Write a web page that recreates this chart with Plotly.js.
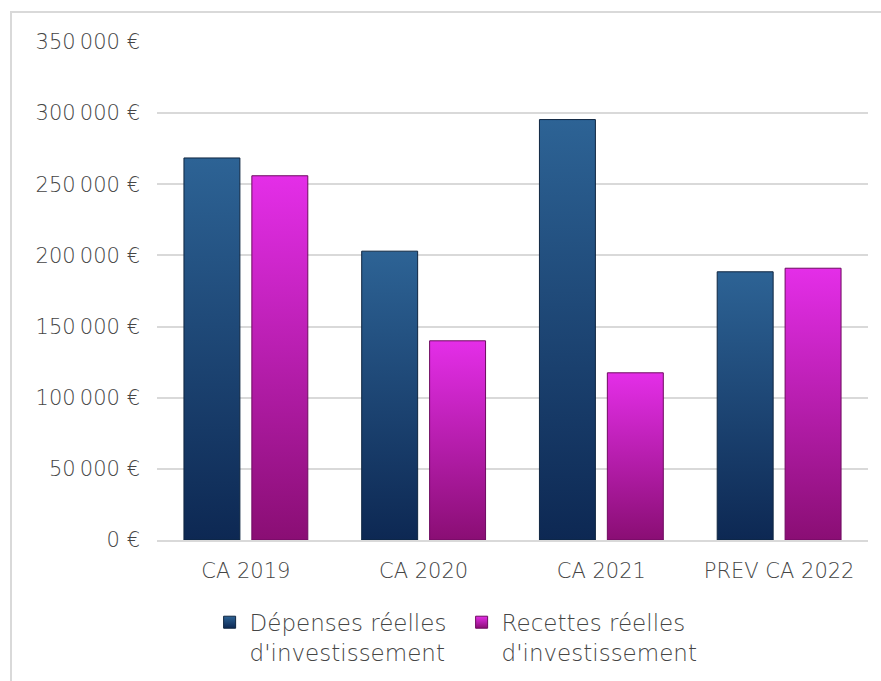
<!DOCTYPE html>
<html>
<head>
<meta charset="utf-8">
<script src="https://cdn.plot.ly/plotly-3.0.1.min.js"></script>
<style>
html,body{margin:0;padding:0;background:#fff;}
#chart{width:881px;height:681px;position:relative;}
#frame{position:absolute;left:10px;top:11px;width:871px;height:670px;border-left:2px solid #d9d9d9;border-top:2px solid #d9d9d9;box-sizing:border-box;pointer-events:none;}
</style>
</head>
<body>
<div id="chart"><div id="frame"></div></div>
<script>
const categories = ["CA 2019", "CA 2020", "CA 2021", "PREV CA 2022"];
const depenses = [268500, 203000, 295500, 188500];
const recettes = [256000, 140000, 117500, 191000];
const seriesNames = ["Dépenses réelles<br>d'investissement", "Recettes réelles<br>d'investissement"];
const yTicks = [0, 50000, 100000, 150000, 200000, 250000, 300000, 350000];
const yTickText = yTicks.map(v => String(v).replace(/\B(?=(\d{3})+(?!\d))/g, "\u2009") + " €");

const font = {family: "'DejaVu Sans', sans-serif", size: 21, color: "#454545", weight: 200};
const legendFont = {family: "'DejaVu Sans', sans-serif", size: 23, color: "#454545", weight: 200};

const traces = [
  {type: "bar", x: categories, y: depenses, name: seriesNames[0],
   marker: {color: "#1d4675", line: {color: "#0f2640", width: 1}}, hoverinfo: "none"},
  {type: "bar", x: categories, y: recettes, name: seriesNames[1],
   marker: {color: "#b81fa8", line: {color: "#6e0a60", width: 1}}, hoverinfo: "none"}
];

const layout = {
  width: 881, height: 681,
  margin: {l: 157, r: 13, t: 42, b: 141, autoexpand: false},
  paper_bgcolor: "rgba(0,0,0,0)", plot_bgcolor: "rgba(0,0,0,0)",
  font: font,
  barmode: "group",
  bargap: 0.236,
  bargroupgap: 0.176,
  showlegend: true,
  legend: {orientation: "h", x: 0.074, xanchor: "left", xref: "paper", y: -0.122, yanchor: "top",
           font: legendFont, valign: "top", itemwidth: 30, tracegroupgap: 0, entrywidth: 207},
  xaxis: {showgrid: false, showline: true, linecolor: "#d9d9d9", linewidth: 2, ticks: "",
          tickfont: font, ticklabelstandoff: 11, fixedrange: true, automargin: false},
  yaxis: {range: [0, 350000], tickmode: "array", tickvals: yTicks, ticktext: yTickText,
          showgrid: true, gridcolor: "#d9d9d9", gridwidth: 2, zeroline: false, showline: false,
          ticks: "", ticklabelstandoff: 16, tickfont: font, fixedrange: true, automargin: false}
};

function addGradients(gd) {
  const svg = gd.querySelector("svg.main-svg");
  const ns = "http://www.w3.org/2000/svg";
  let defs = svg.querySelector("defs");
  if (!defs) { defs = document.createElementNS(ns, "defs"); svg.insertBefore(defs, svg.firstChild); }
  const grads = [
    {id: "gBlue", top: "#2d6395", bottom: "#0d2853"},
    {id: "gMag", top: "#e42ee8", bottom: "#8a0e74"}
  ];
  grads.forEach(g => {
    const lg = document.createElementNS(ns, "linearGradient");
    lg.setAttribute("id", g.id);
    lg.setAttribute("x1", "0"); lg.setAttribute("y1", "0");
    lg.setAttribute("x2", "0"); lg.setAttribute("y2", "1");
    const s1 = document.createElementNS(ns, "stop");
    s1.setAttribute("offset", "0"); s1.setAttribute("stop-color", g.top);
    const s2 = document.createElementNS(ns, "stop");
    s2.setAttribute("offset", "1"); s2.setAttribute("stop-color", g.bottom);
    lg.appendChild(s1); lg.appendChild(s2); defs.appendChild(lg);
  });
  gd.querySelectorAll(".barlayer .trace").forEach((t, i) => {
    t.querySelectorAll(".point path").forEach(p => { p.style.fill = "url(#" + grads[i].id + ")"; });
  });
  gd.querySelectorAll(".legend .traces").forEach((t, i) => {
    t.querySelectorAll(".legendpoints path").forEach(p => { p.style.fill = "url(#" + grads[i].id + ")"; });
  });
}

const gd = document.getElementById("chart");
Plotly.newPlot(gd, traces, layout, {staticPlot: true, displayModeBar: false}).then(addGradients);
</script>
</body>
</html>
